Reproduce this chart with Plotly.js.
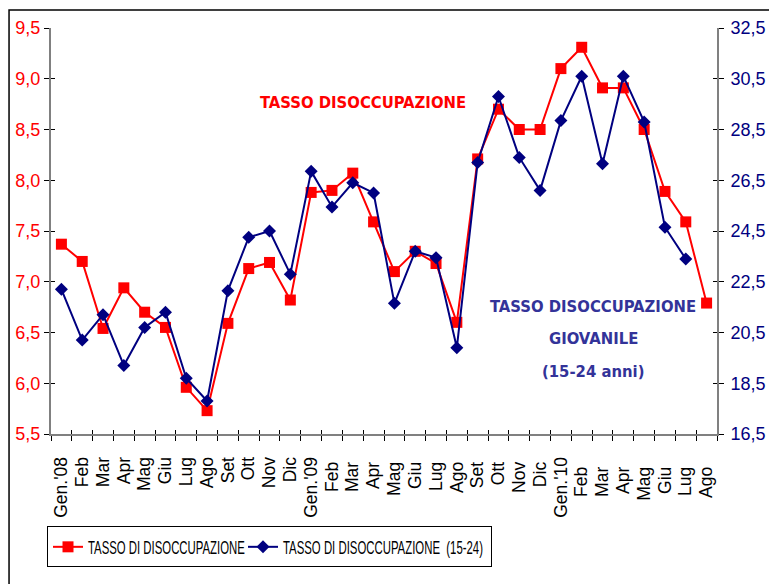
<!DOCTYPE html>
<html>
<head>
<meta charset="utf-8">
<script src="https://cdn.plot.ly/plotly-3.0.1.min.js"></script>
<style>html,body{margin:0;padding:0;background:#fff;}#chart{width:769px;height:584px;}</style>
</head>
<body>
<div id="chart"></div>
<script>
// Categories (months Jan 2008 - Aug 2010)
const months = ["Gen.'08","Feb","Mar","Apr","Mag","Giu","Lug","Ago","Set","Ott","Nov","Dic",
  "Gen.'09","Feb ","Mar ","Apr ","Mag ","Giu ","Lug ","Ago ","Set ","Ott ","Nov ","Dic ",
  "Gen.'10","Feb  ","Mar  ","Apr  ","Mag  ","Giu  ","Lug  ","Ago  "];
// Overall unemployment rate (left axis)
const tasso = [7.37,7.20,6.54,6.94,6.70,6.55,5.96,5.73,6.59,7.13,7.19,6.82,
  7.88,7.90,8.07,7.59,7.10,7.30,7.18,6.60,8.21,8.70,8.50,8.50,
  9.10,9.31,8.91,8.91,8.50,7.89,7.59,6.79];
// Youth unemployment rate 15-24 (right axis), no value for the last month
const giovanile = [22.2,20.2,21.2,19.2,20.7,21.3,18.7,17.8,22.15,24.25,24.5,22.8,
  26.85,25.45,26.4,26.0,21.65,23.7,23.45,19.9,27.2,29.8,27.4,26.1,
  28.85,30.6,27.15,30.6,28.8,24.65,23.4,null];
const leftTicks = [5.5,6.0,6.5,7.0,7.5,8.0,8.5,9.0,9.5];
const rightTicks = [16.5,18.5,20.5,22.5,24.5,26.5,28.5,30.5,32.5];

const RED = '#FF0000', NAVY = '#000080', SLATE = '#333399';
const tickFont = {family:'Liberation Sans, Arial, sans-serif', size:18};
const noteFont = (c) => ({family:'DejaVu Sans Condensed, DejaVu Sans, sans-serif', size:16.5, color:c, weight:'bold'});

const traces = [
  {x: months, y: tasso, type:'scatter', mode:'lines+markers', name:'TASSO DI DISOCCUPAZIONE',
   line:{color:RED, width:2}, marker:{symbol:'square', size:11, color:RED}, xaxis:'x', yaxis:'y'},
  {x: months, y: giovanile, type:'scatter', mode:'lines+markers', name:'TASSO DI DISOCCUPAZIONE  (15-24)',
   line:{color:NAVY, width:2}, marker:{symbol:'diamond', size:10, color:NAVY}, xaxis:'x', yaxis:'y2'},
  // empty helper traces so the overlay axes (inner half of crossing ticks) are drawn
  {x: [], y: [], xaxis:'x2', yaxis:'y3', showlegend:false, hoverinfo:'skip'},
  {x: [], y: [], xaxis:'x2', yaxis:'y4', showlegend:false, hoverinfo:'skip'}
];

const layout = {
  width:769, height:584,
  margin:{l:51, r:52, t:28, b:150},
  paper_bgcolor:'#fff', plot_bgcolor:'#fff',
  separators:',.',
  showlegend:true,
  font:{family:'Liberation Sans, Arial, sans-serif', color:'#000'},
  xaxis:{type:'category', categoryorder:'array', categoryarray:months, tickson:'boundaries',
    range:[-0.5, months.length-0.5], tickmode:'linear', tick0:0, dtick:1,
    ticks:'outside', ticklen:5, tickcolor:'#000', tickwidth:1, ticklabelstandoff:14,
    showline:true, linecolor:'#808080', linewidth:2, showgrid:false, zeroline:false,
    tickangle:-90, tickfont:Object.assign({}, tickFont, {size:17.5}), fixedrange:true},
  xaxis2:{overlaying:'x', range:[-0.5, months.length-0.5], tick0:-0.5, dtick:1, ticks:'inside',
    ticklen:4, tickcolor:'#000', showticklabels:false, showline:false, showgrid:false, zeroline:false, anchor:'y3'},
  yaxis:{range:[5.5,9.5], tickvals:leftTicks, tickformat:'.1f', ticks:'outside', ticklen:5,
    tickcolor:'#000', showline:true, linecolor:'#808080', linewidth:2, showgrid:false, zeroline:false,
    tickfont:Object.assign({}, tickFont, {color:RED}), fixedrange:true},
  yaxis2:{overlaying:'y', side:'right', range:[16.5,32.5], tickvals:rightTicks, tickformat:'.1f',
    ticks:'outside', ticklen:5, tickcolor:'#000', showline:true, linecolor:'#808080', linewidth:2, ticklabelstandoff:3,
    showgrid:false, zeroline:false, tickfont:Object.assign({}, tickFont, {color:NAVY}), fixedrange:true},
  yaxis3:{overlaying:'y', side:'left', range:[5.5,9.5], tickvals:leftTicks, ticks:'inside', ticklen:4,
    tickcolor:'#000', showticklabels:false, showline:false, showgrid:false, zeroline:false},
  yaxis4:{overlaying:'y', side:'right', range:[16.5,32.5], tickvals:rightTicks, ticks:'inside', ticklen:4,
    tickcolor:'#000', showticklabels:false, showline:false, showgrid:false, zeroline:false},
  legend:{orientation:'h', x:-0.006, xanchor:'left', y:-0.229, yanchor:'top',
    bordercolor:'#000', borderwidth:1, bgcolor:'#fff',
    font:{family:'Liberation Sans, Arial, sans-serif', size:19, color:'#000'},
    itemwidth:30, tracegroupgap:0},
  annotations:[
    {xref:'paper', yref:'paper', x:0.4692, y:0.8165, xanchor:'center', yanchor:'middle',
     text:'TASSO DISOCCUPAZIONE', showarrow:false, font:noteFont(RED)},
    {xref:'paper', yref:'paper', x:0.814, y:0.313, xanchor:'center', yanchor:'middle',
     text:'TASSO DISOCCUPAZIONE', showarrow:false, font:noteFont(SLATE)},
    {xref:'paper', yref:'paper', x:0.814, y:0.235, xanchor:'center', yanchor:'middle',
     text:'GIOVANILE', showarrow:false, font:noteFont(SLATE)},
    {xref:'paper', yref:'paper', x:0.814, y:0.153, xanchor:'center', yanchor:'middle',
     text:'(15-24 anni)', showarrow:false, font:noteFont(SLATE)}
  ],
  shapes:[
    {type:'rect', xref:'paper', yref:'paper', x0:-0.063, x1:1.08, y0:-0.4, y1:1.0443,
     line:{color:'#000', width:1.5}, fillcolor:'rgba(0,0,0,0)', layer:'below'}
  ]
};

Plotly.newPlot('chart', traces, layout, {displayModeBar:false, staticPlot:true}).then(function(gd){
  // condense legend text horizontally like the narrow rendering of the original
  var lens = [157, 200];
  var texts = gd.querySelectorAll('.legend text.legendtext');
  texts.forEach(function(t, i){
    if (!lens[i]) return;
    var w = t.getComputedTextLength();
    var x0 = parseFloat(t.getAttribute('x')) || 0;
    if (w > 0) {
      var s = lens[i] / w;
      t.setAttribute('transform', 'translate(' + x0 + ',0) scale(' + s.toFixed(4) + ',1) translate(' + (-x0) + ',0)');
    }
  });
  var items = gd.querySelectorAll('.legend g.traces');
  if (items.length === 2) {
    var re = /translate\(\s*([-\d.]+)[ ,]+([-\d.]+)\s*\)/;
    var m = re.exec(items[0].getAttribute('transform') || '');
    var m2 = re.exec(items[1].getAttribute('transform') || '');
    if (m && m2) items[1].setAttribute('transform', 'translate(' + (parseFloat(m[1]) + 195) + ',' + m2[2] + ')');
  }
  var bg = gd.querySelector('.legend rect.bg');
  if (bg) {
    var h = parseFloat(bg.getAttribute('height')) || 35;
    var y = parseFloat(bg.getAttribute('y')) || 0;
    bg.setAttribute('width', 444);
    if (h < 40) { bg.setAttribute('height', 40); bg.setAttribute('y', y - (40 - h) / 2); }
  }
});
</script>
</body>
</html>
